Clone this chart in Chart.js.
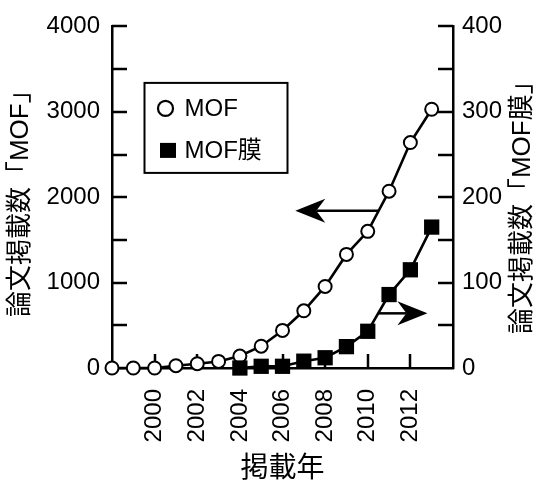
<!DOCTYPE html>
<html>
<head>
<meta charset="utf-8">
<script src="https://cdn.jsdelivr.net/npm/chart.js@4/dist/chart.umd.min.js"></script>
<style>
  html, body { margin: 0; padding: 0; background: #fff; }
  #wrap { width: 537px; height: 483px; }
</style>
</head>
<body>
<div id="wrap"><canvas id="c" width="537" height="483"></canvas></div>
<script>
// ---- data ----
const mofYears = [1998, 1999, 2000, 2001, 2002, 2003, 2004, 2005, 2006, 2007, 2008, 2009, 2010, 2011, 2012, 2013];
const mofCounts = [0, 0, 0, 27, 50, 77, 140, 255, 440, 670, 955, 1330, 1600, 2070, 2640, 3030];
const membraneYears = [2004, 2005, 2006, 2007, 2008, 2009, 2010, 2011, 2012, 2013];
const membraneCounts = [0, 2, 2, 8, 12, 25, 43, 86, 115, 165];
const xTickLabels = [2000, 2002, 2004, 2006, 2008, 2010, 2012];
const leftTickLabels = [0, 1000, 2000, 3000, 4000];
const rightTickLabels = [0, 100, 200, 300, 400];
const seriesNames = ['MOF', 'MOF膜'];
const axisTitles = { x: '掲載年', left: '論文掲載数「MOF」', right: '論文掲載数「MOF膜」' };
// arrows: [axisId, yValue, fromYear, toYear]
const arrows = [['y', 1840, 2010.5, 2006.6], ['y1', 64, 2010.5, 2012.8]];

const FONT = "'Liberation Sans', 'Noto Sans CJK JP', Arial, sans-serif";

const mofPoints = mofYears.map((x, i) => ({ x, y: mofCounts[i] }));
const memPoints = membraneYears.map((x, i) => ({ x, y: membraneCounts[i] }));

const decorPlugin = {
  id: 'decor',
  beforeDatasetsDraw(chart) {
    const ctx = chart.ctx;
    const ca = chart.chartArea;
    const sx = chart.scales.x, sy = chart.scales.y, sy1 = chart.scales.y1;
    ctx.save();
    ctx.strokeStyle = '#000';
    ctx.lineWidth = 2.5;
    ctx.beginPath();
    sx.ticks.forEach(t => {
      if (!xTickLabels.includes(t.value)) return;
      const px = Math.round(sx.getPixelForValue(t.value));
      ctx.moveTo(px, ca.bottom);
      ctx.lineTo(px, ca.bottom - 14);
    });
    sy.ticks.forEach(t => {
      if (t.value === 0) return;
      const py = Math.round(sy.getPixelForValue(t.value));
      ctx.moveTo(ca.left, py);
      ctx.lineTo(ca.left + 15, py);
    });
    sy1.ticks.forEach(t => {
      if (t.value === 0) return;
      const py = Math.round(sy1.getPixelForValue(t.value));
      ctx.moveTo(ca.right, py);
      ctx.lineTo(ca.right - 15, py);
    });
    ctx.stroke();

    // arrows
    ctx.lineWidth = 2.5;
    arrows.forEach(([axis, yv, from, to]) => {
      const ys = chart.scales[axis];
      const py = ys.getPixelForValue(yv);
      const x0 = sx.getPixelForValue(from);
      const x1 = sx.getPixelForValue(to);
      const dir = x1 < x0 ? -1 : 1;
      const len = 30, half = 12, notch = 21;
      ctx.beginPath();
      ctx.moveTo(x0, py);
      ctx.lineTo(x1 - dir * notch, py);
      ctx.stroke();
      ctx.beginPath();
      ctx.moveTo(x1, py);
      ctx.lineTo(x1 - dir * len, py - half);
      ctx.lineTo(x1 - dir * notch, py);
      ctx.lineTo(x1 - dir * len, py + half);
      ctx.closePath();
      ctx.fillStyle = '#000';
      ctx.fill();
    });
    ctx.restore();
  },
  afterDraw(chart) {
    const ctx = chart.ctx;
    const ca = chart.chartArea;
    ctx.save();
    // right axis title (reads bottom to top)
    ctx.fillStyle = '#000';
    ctx.font = '26px ' + FONT;
    ctx.textAlign = 'center';
    ctx.textBaseline = 'middle';
    ctx.translate(chart.width - 14, (ca.top + ca.bottom) / 2 + 4);
    ctx.rotate(-Math.PI / 2);
    ctx.fillText(axisTitles.right, 0, 0);
    ctx.restore();

    // legend box
    ctx.save();
    const bx = ca.left + 32.5, by = ca.top + 56.5, bw = 143, bh = 90;
    ctx.strokeStyle = '#000';
    ctx.lineWidth = 2;
    ctx.strokeRect(bx, by, bw, bh);
    // circle symbol
    ctx.beginPath();
    ctx.arc(bx + 21, by + 25.5, 7.5, 0, Math.PI * 2);
    ctx.fillStyle = '#fff';
    ctx.fill();
    ctx.lineWidth = 2.2;
    ctx.stroke();
    // square symbol
    ctx.fillStyle = '#000';
    ctx.fillRect(bx + 15.5, by + 60, 16, 15);
    ctx.font = '24px ' + FONT;
    ctx.textAlign = 'left';
    ctx.textBaseline = 'middle';
    ctx.fillText(seriesNames[0], bx + 40, by + 26.5);
    ctx.fillText(seriesNames[1], bx + 40, by + 68.5);
    ctx.restore();
  }
};

new Chart(document.getElementById('c'), {
  type: 'line',
  data: {
    datasets: [
      {
        label: seriesNames[0],
        data: mofPoints,
        yAxisID: 'y',
        borderColor: '#000',
        borderWidth: 2.6,
        pointStyle: 'circle',
        pointRadius: 6.5,
        pointBorderWidth: 2,
        pointBackgroundColor: '#fff',
        pointBorderColor: '#000',
        tension: 0,
        clip: false,
        order: 1
      },
      {
        label: seriesNames[1],
        data: memPoints,
        yAxisID: 'y1',
        borderColor: '#000',
        borderWidth: 2.6,
        pointStyle: 'rect',
        pointRadius: 10.8,
        pointBorderWidth: 0,
        pointBackgroundColor: '#000',
        pointBorderColor: '#000',
        tension: 0,
        clip: false,
        order: 0
      }
    ]
  },
  options: {
    responsive: false,
    animation: false,
    devicePixelRatio: 1,
    layout: { padding: { top: 25, left: 0, right: 0, bottom: 0 } },
    plugins: { legend: { display: false }, tooltip: { enabled: false } },
    scales: {
      x: {
        type: 'linear',
        min: 1998,
        max: 2014,
        afterFit(s) { s.height = 115; },
        border: { display: true, color: '#000', width: 2.5 },
        grid: { display: false, drawTicks: false, tickLength: 0 },
        ticks: {
          stepSize: 2,
          minRotation: 90,
          maxRotation: 90,
          autoSkip: false,
          padding: 21,
          color: '#000',
          font: { family: FONT, size: 24 },
          callback: v => xTickLabels.includes(v) ? String(v) : ''
        },
        title: {
          display: true,
          text: axisTitles.x,
          color: '#000',
          font: { family: FONT, size: 28, lineHeight: 1.0 },
          padding: { top: 0, bottom: 0 }
        }
      },
      y: {
        type: 'linear',
        position: 'left',
        min: 0,
        max: 4000,
        afterFit(s) { s.width = 112; },
        border: { display: true, color: '#000', width: 2.5 },
        grid: { display: false, drawTicks: false, tickLength: 0 },
        ticks: {
          stepSize: 500,
          autoSkip: false,
          padding: 12,
          color: '#000',
          font: { family: FONT, size: 24 },
          callback: v => leftTickLabels.includes(v) ? String(v) : ''
        },
        title: {
          display: true,
          text: axisTitles.left,
          color: '#000',
          font: { family: FONT, size: 26 },
          padding: { top: 5, bottom: 0 }
        }
      },
      y1: {
        type: 'linear',
        position: 'right',
        min: 0,
        max: 400,
        afterFit(s) { s.width = 84; },
        border: { display: true, color: '#000', width: 2.5 },
        grid: { display: false, drawTicks: false, tickLength: 0 },
        ticks: {
          stepSize: 50,
          autoSkip: false,
          padding: 9,
          color: '#000',
          font: { family: FONT, size: 24 },
          callback: v => rightTickLabels.includes(v) ? String(v) : ''
        }
      }
    }
  },
  plugins: [decorPlugin]
});
</script>
</body>
</html>
